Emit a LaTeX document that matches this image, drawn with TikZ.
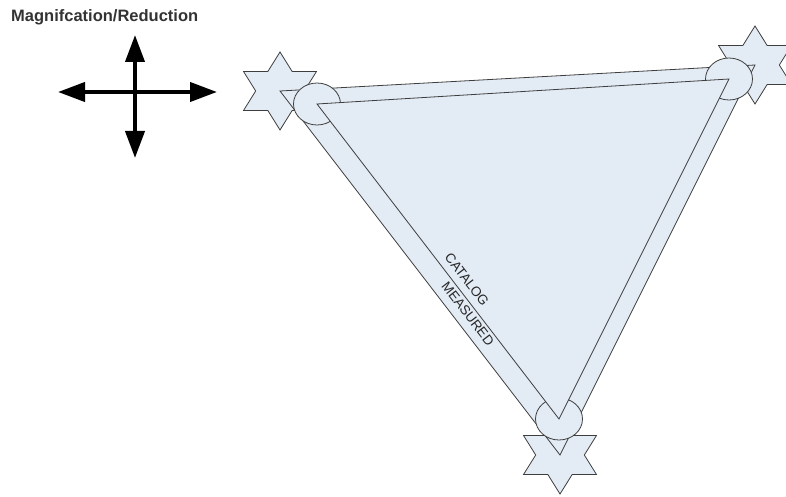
\documentclass[tikz,border=0pt]{standalone}
\usepackage{fontspec}
\setmainfont{Liberation Sans}
\usetikzlibrary{arrows.meta,shapes.geometric}

\definecolor{paleblue}{RGB}{227,235,245}
\definecolor{edgegray}{RGB}{62,62,62}

\begin{document}
\begin{tikzpicture}[
    x=1pt, y=-1pt,
    >={Triangle[length=27pt, width=19pt]},
    title/.style={
        font=\bfseries\fontsize{16.5}{19}\selectfont,
        text=black!80,
        inner sep=0pt,
        anchor=base west
    },
    resize/.style={
        <->,
        line width=4pt,
        black
    },
    startip/.style={
        shape=star,
        star points=6,
        star point ratio=1.732,
        minimum size=78pt,
        inner sep=0pt,
        xscale=1.08,
        draw=edgegray,
        fill=paleblue,
        line width=0.8pt
    },
    ring/.style={
        shape=ellipse,
        minimum width=47pt,
        minimum height=42pt,
        inner sep=0pt,
        draw=edgegray,
        fill=paleblue,
        line width=0.8pt
    },
    band/.style={
        draw=edgegray,
        fill=paleblue,
        line width=0.8pt,
        line join=miter
    },
    edgelabel/.style={
        font=\fontsize{13.5}{16}\selectfont,
        text=black!85,
        inner sep=0pt,
        sloped
    }
]

\useasboundingbox (0,0) rectangle (786,497);

% ==================================================
% Magnification / reduction cross
% ==================================================

\node[title] (heading) at (11,21.5) {Magnifcation/Reduction};

\coordinate (crossW) at (58,92);
\coordinate (crossE) at (217,92);
\coordinate (crossN) at (135,35);
\coordinate (crossS) at (135,158);

\draw[resize] (crossW) -- (crossE);
\draw[resize] (crossN) -- (crossS);

% ==================================================
% Measured positions (stars) and outer triangle
% ==================================================

\node[startip] (starTL) at (280,91) {};
\node[startip] (starTR) at (755,65) {};
\node[startip] (starB) at (560,455) {};

\draw[band] (starTL.center) -- (starTR.center) -- (starB.center) -- cycle;

% ==================================================
% Catalog positions (circles) and inner triangle
% ==================================================

\node[ring] (ringTL) at (317,104) {};
\node[ring] (ringTR) at (729,79) {};
\node[ring] (ringB) at (559,419) {};

\draw[band] (ringTL.center) -- (ringTR.center) -- (ringB.center) -- cycle;

% Labels along the left side
\path (ringTL.center) -- node[edgelabel, pos=0.58, above=7pt] (catlabel) {CATALOG} (ringB.center);
\path (ringTL.center) -- node[edgelabel, pos=0.65, below=3pt] (measlabel) {MEASURED} (ringB.center);

\end{tikzpicture}
\end{document}
